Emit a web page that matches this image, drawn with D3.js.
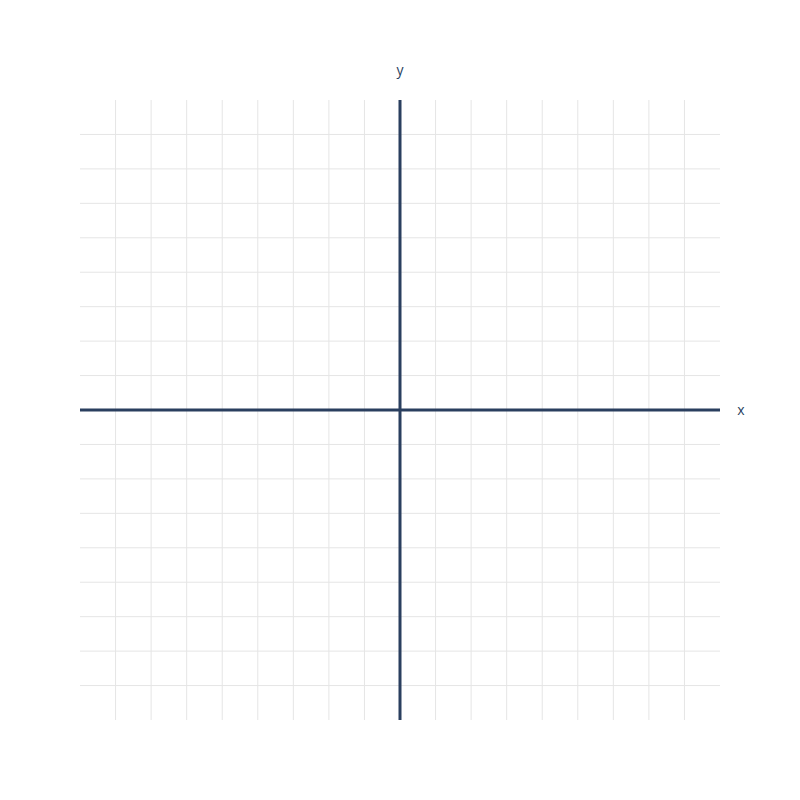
<!DOCTYPE html>
<html>
<head>
<meta charset="utf-8">
<script src="https://cdn.jsdelivr.net/npm/d3@7"></script>
<style>
  body { margin: 0; background: #fff; }
</style>
</head>
<body>
<div id="vis"></div>
<script>
// axis ranges and grid ticks
var xDomain = [-9, 9];
var yDomain = [-9, 9];
var xTicks = [-8, -7, -6, -5, -4, -3, -2, -1, 0, 1, 2, 3, 4, 5, 6, 7, 8];
var yTicks = [-8, -7, -6, -5, -4, -3, -2, -1, 0, 1, 2, 3, 4, 5, 6, 7, 8];
var axisLabels = ['x', 'y'];

var width = 800;
var height = 800;
var margin = { top: 100, left: 80, bottom: 80, right: 80 };

var svg = d3.select('#vis').append('svg')
  .attr('width', width)
  .attr('height', height);

var x = d3.scaleLinear()
  .domain(xDomain)
  .range([margin.left, width - margin.right]);

var y = d3.scaleLinear()
  .domain(yDomain)
  .range([height - margin.bottom, margin.top]);

var g = svg.append('g');

// grid lines
g.selectAll('.vgrid')
  .data(xTicks)
  .enter()
  .append('line')
  .attr('class', 'vgrid')
  .attr('x1', function (d) { return x(d); })
  .attr('x2', function (d) { return x(d); })
  .attr('y1', y(yDomain[0]))
  .attr('y2', y(yDomain[1]))
  .attr('stroke', '#e5e5e5')
  .attr('stroke-width', 1);

g.selectAll('.hgrid')
  .data(yTicks)
  .enter()
  .append('line')
  .attr('class', 'hgrid')
  .attr('y1', function (d) { return y(d); })
  .attr('y2', function (d) { return y(d); })
  .attr('x1', x(xDomain[0]))
  .attr('x2', x(xDomain[1]))
  .attr('stroke', '#e5e5e5')
  .attr('stroke-width', 1);

// zero lines
g.append('line')
  .attr('x1', x(xDomain[0]))
  .attr('x2', x(xDomain[1]))
  .attr('y1', y(0))
  .attr('y2', y(0))
  .attr('stroke', '#2a3f5f')
  .attr('stroke-width', 3);

g.append('line')
  .attr('x1', x(0))
  .attr('x2', x(0))
  .attr('y1', y(yDomain[0]))
  .attr('y2', y(yDomain[1]))
  .attr('stroke', '#2a3f5f')
  .attr('stroke-width', 3);

// axis titles
g.append('text')
  .attr('x', x(xDomain[1]) + 21)
  .attr('y', y(0))
  .attr('dy', '0.35em')
  .attr('text-anchor', 'middle')
  .style('font-family', '"Open Sans", sans-serif')
  .style('font-size', '14px')
  .style('fill', '#2a3f5f')
  .text(axisLabels[0]);

g.append('text')
  .attr('x', x(0))
  .attr('y', y(yDomain[1]) - 30)
  .attr('dy', '0.35em')
  .attr('text-anchor', 'middle')
  .style('font-family', '"Open Sans", sans-serif')
  .style('font-size', '14px')
  .style('fill', '#2a3f5f')
  .text(axisLabels[1]);
</script>
</body>
</html>
